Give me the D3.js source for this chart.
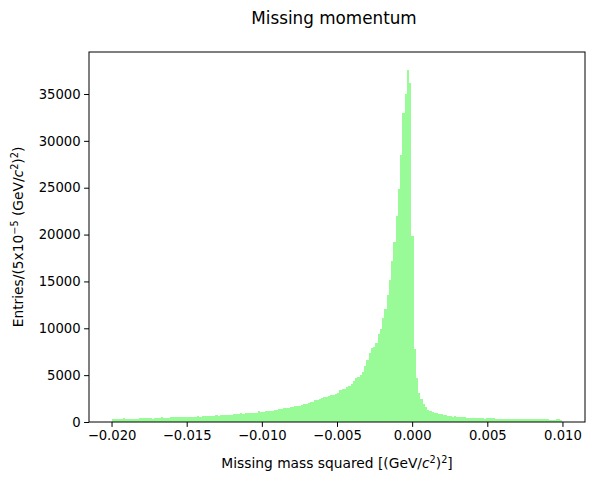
<!DOCTYPE html>
<html lang="en">
<head>
  <meta charset="UTF-8">
  <title>Missing momentum</title>
  <script src="https://cdnjs.cloudflare.com/ajax/libs/d3/7.8.5/d3.min.js"></script>
  <style>
    body { margin: 0; background: #fff; }
    text { font-family: "DejaVu Sans", sans-serif; fill: #000; }
  </style>
</head>
<body>
  <script>
    // histogram: 200 bins from -0.02 to 0.01
    const binStart = -0.02;
    const binWidth = 0.00015;
    const counts = [
      320, 310, 330, 320, 315, 430, 320, 310, 325, 320,
      330, 315, 430, 420, 440, 430, 425, 435, 320, 430,
      440, 425, 530, 430, 420, 440, 530, 520, 540, 530,
      525, 535, 530, 520, 540, 530, 525, 535, 640, 530,
      640, 630, 650, 640, 635, 645, 750, 640, 750, 745,
      755, 750, 740, 760, 850, 855, 845, 960, 850, 960,
      955, 965, 960, 950, 970, 1170, 1070, 1075, 1170, 1165,
      1175, 1180, 1280, 1290, 1390, 1400, 1500, 1490, 1510, 1600,
      1610, 1710, 1720, 1740, 1800, 1960, 1970, 2060, 2100, 2150,
      2380, 2400, 2450, 2600, 2700, 2720, 2800, 2850, 2900, 2950,
      3130, 3400, 3480, 3550, 3750, 3800, 4100, 4400, 4700, 4780,
      5050, 5370, 6000, 6650, 7400, 7900, 8000, 8450, 9400, 9900,
      11100, 12100, 13600, 15100, 17200, 19200, 22000, 24900, 28500, 33000,
      35000, 37600, 36200, 19800, 7800, 4700, 3100, 2500, 1900, 1600,
      1300, 1150, 1040, 930, 920, 850, 840, 760, 740, 680,
      690, 570, 640, 530, 540, 520, 530, 430, 440, 425,
      430, 435, 420, 430, 440, 330, 430, 435, 425, 430,
      290, 295, 285, 290, 300, 290, 285, 295, 290, 280,
      290, 295, 285, 290, 300, 290, 285, 295, 290, 285,
      290, 295, 285, 290, 210, 205, 215, 320, 315, 180
    ];
    const xTicks = [-0.02, -0.015, -0.01, -0.005, 0, 0.005, 0.01];
    const yTicks = [0, 5000, 10000, 15000, 20000, 25000, 30000, 35000];

    const width = 594, height = 483;
    const margin = { left: 89, right: 585, top: 52, bottom: 422 };

    const svg = d3.select("body").append("svg")
      .attr("width", width)
      .attr("height", height);

    const binEnd = binStart + counts.length * binWidth;
    const pad = (binEnd - binStart) * 0.05;
    const x = d3.scaleLinear()
      .domain([binStart - pad, binEnd + pad])
      .range([margin.left, margin.right]);
    const y = d3.scaleLinear()
      .domain([0, d3.max(counts) * 1.05])
      .range([margin.bottom, margin.top]);

    // bars (crisp so neighbouring bins do not leave light seams)
    svg.append("g")
      .attr("shape-rendering", "crispEdges")
      .selectAll("rect")
      .data(counts)
      .join("rect")
      .attr("x", (d, i) => Math.round(x(binStart + i * binWidth)))
      .attr("width", (d, i) => Math.round(x(binStart + (i + 1) * binWidth)) - Math.round(x(binStart + i * binWidth)))
      .attr("y", d => y(d))
      .attr("height", d => y(0) - y(d))
      .attr("fill", "#98fb98");

    // axes
    const xAxis = d3.axisBottom(x)
      .tickValues(xTicks)
      .tickFormat(d3.format(".3f"))
      .tickSizeOuter(0)
      .tickSize(4.9)
      .tickPadding(3.5);
    const gx = svg.append("g")
      .attr("transform", `translate(0,${margin.bottom})`)
      .call(xAxis);

    const yAxis = d3.axisLeft(y)
      .tickValues(yTicks)
      .tickFormat(d3.format("d"))
      .tickSizeOuter(0)
      .tickSize(4.9)
      .tickPadding(3.5);
    const gy = svg.append("g")
      .attr("transform", `translate(${margin.left},0)`)
      .call(yAxis);

    [gx, gy].forEach(g => {
      g.select(".domain").remove();
      g.selectAll(".tick line").attr("stroke", "#000").attr("stroke-width", 1);
      g.selectAll(".tick text")
        .attr("font-family", "DejaVu Sans, sans-serif")
        .attr("font-size", "13.2px")
        .attr("fill", "#000");
    });

    // frame
    svg.append("rect")
      .attr("x", margin.left)
      .attr("y", margin.top)
      .attr("width", margin.right - margin.left)
      .attr("height", margin.bottom - margin.top)
      .attr("fill", "none")
      .attr("stroke", "#000")
      .attr("stroke-width", 1);

    // title
    svg.append("text")
      .attr("x", 334)
      .attr("y", 24)
      .attr("text-anchor", "middle")
      .attr("font-size", "16.8px")
      .text("Missing momentum");

    // x label
    const xl = svg.append("text")
      .attr("x", (margin.left + margin.right) / 2)
      .attr("y", 468)
      .attr("text-anchor", "middle")
      .attr("font-size", "13.8px");
    xl.append("tspan").text("Missing mass squared [(GeV/");
    xl.append("tspan").attr("font-style", "italic").text("c");
    xl.append("tspan").attr("dy", -5.5).attr("font-size", "9.7px").text("2");
    xl.append("tspan").attr("dy", 5.5).text(")");
    xl.append("tspan").attr("dy", -5.5).attr("font-size", "9.7px").text("2");
    xl.append("tspan").attr("dy", 5.5).text("]");

    // y label
    const yl = svg.append("text")
      .attr("transform", `translate(23,${(margin.top + margin.bottom) / 2}) rotate(-90)`)
      .attr("text-anchor", "middle")
      .attr("font-size", "13.8px");
    yl.append("tspan").text("Entries/(5x10");
    yl.append("tspan").attr("dy", -5.5).attr("font-size", "9.7px").text("\u22125");
    yl.append("tspan").attr("dy", 5.5).text(" (GeV/");
    yl.append("tspan").attr("font-style", "italic").text("c");
    yl.append("tspan").attr("dy", -5.5).attr("font-size", "9.7px").text("2");
    yl.append("tspan").attr("dy", 5.5).text(")");
    yl.append("tspan").attr("dy", -5.5).attr("font-size", "9.7px").text("2");
    yl.append("tspan").attr("dy", 5.5).text(")");
  </script>
</body>
</html>
